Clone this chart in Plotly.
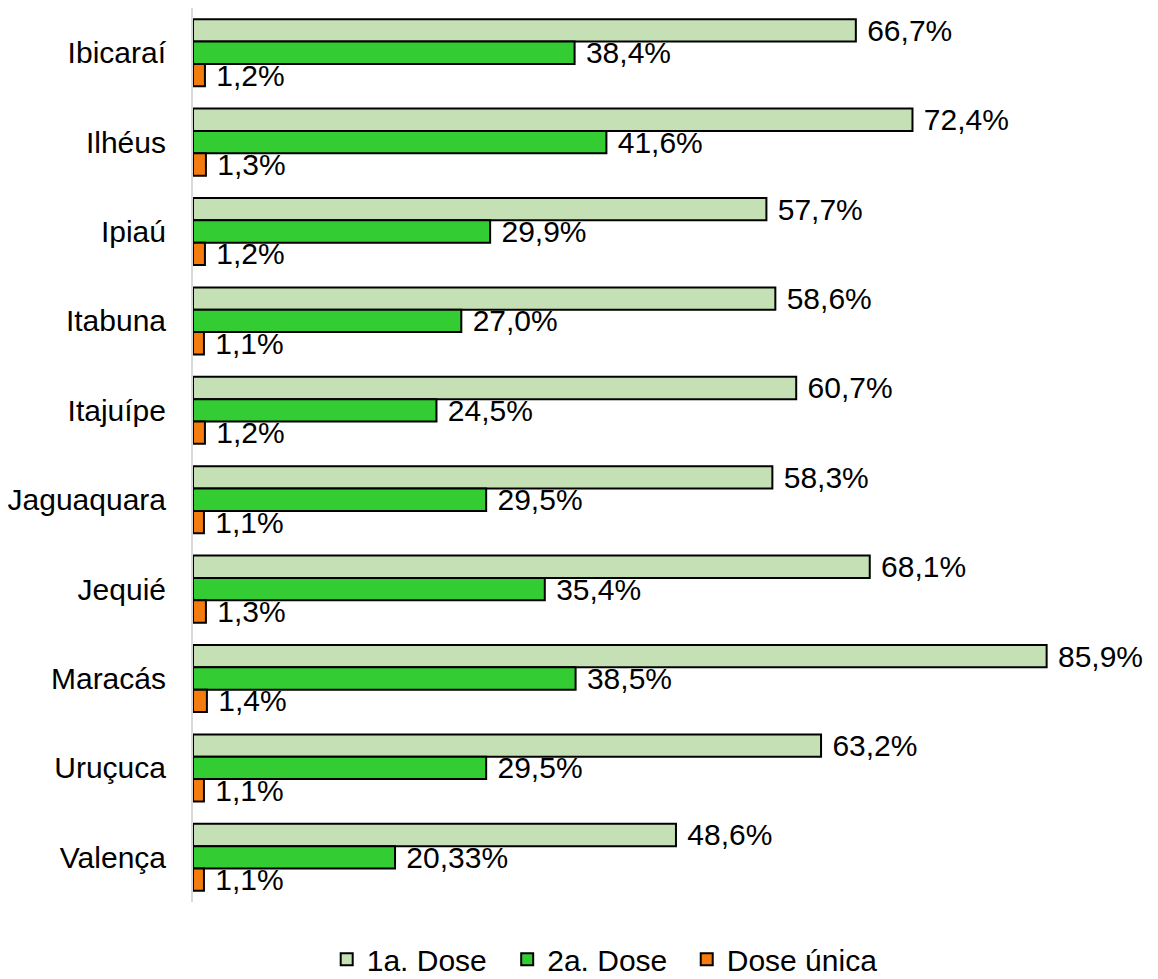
import plotly.graph_objects as go

categories = ["Ibicaraí", "Ilhéus", "Ipiaú", "Itabuna", "Itajuípe",
              "Jaguaquara", "Jequié", "Maracás", "Uruçuca", "Valença"]
dose1 = [66.7, 72.4, 57.7, 58.6, 60.7, 58.3, 68.1, 85.9, 63.2, 48.6]
dose2 = [38.4, 41.6, 29.9, 27.0, 24.5, 29.5, 35.4, 38.5, 29.5, 20.33]
dose_unica = [1.2, 1.3, 1.2, 1.1, 1.2, 1.1, 1.3, 1.4, 1.1, 1.1]
labels1 = ["66,7%", "72,4%", "57,7%", "58,6%", "60,7%", "58,3%", "68,1%", "85,9%", "63,2%", "48,6%"]
labels2 = ["38,4%", "41,6%", "29,9%", "27,0%", "24,5%", "29,5%", "35,4%", "38,5%", "29,5%", "20,33%"]
labels3 = ["1,2%", "1,3%", "1,2%", "1,1%", "1,2%", "1,1%", "1,3%", "1,4%", "1,1%", "1,1%"]

series = [
    ("1a. Dose", dose1, labels1, "#c5e0b4", "legend"),
    ("2a. Dose", dose2, labels2, "#33cc33", "legend2"),
    ("Dose única", dose_unica, labels3, "#f47c0f", "legend3"),
]

FONT = "Liberation Sans, Arial, sans-serif"

fig = go.Figure()
for name, vals, labs, col, leg in series:
    fig.add_trace(go.Bar(
        y=categories, x=vals, name=name, orientation="h", legend=leg,
        marker=dict(color=col, line=dict(color="#000000", width=2)),
        text=["\u00a0" + t for t in labs], textposition="outside",
        constraintext="none", cliponaxis=False,
        textfont=dict(family=FONT, size=30, color="#000000"),
    ))

legend_style = dict(orientation="h", xanchor="left", y=-0.035, yanchor="top",
                    font=dict(family=FONT, size=30, color="#000000"),
                    itemwidth=30, bgcolor="rgba(0,0,0,0)")

fig.update_layout(
    width=1158, height=979,
    barmode="group", bargap=0.25, bargroupgap=0,
    plot_bgcolor="white", paper_bgcolor="white",
    margin=dict(l=185, r=18, t=0, b=85, autoexpand=False),
    font=dict(family=FONT, size=30, color="#000000"),
    showlegend=True,
    legend=dict(x=0.14, **legend_style),
    legend2=dict(x=0.329, **legend_style),
    legend3=dict(x=0.517, **legend_style),
)
fig.update_xaxes(range=[0, 96.1], showgrid=False, zeroline=False, showticklabels=False,
                 showline=False, ticks="")
fig.update_yaxes(autorange="reversed", showline=True, linecolor="#d9d9d9", linewidth=2,
                 showgrid=False, ticks="", ticklabelstandoff=19, automargin=False,
                 tickfont=dict(family=FONT, size=30, color="#000000"))

fig.write_html("out.html")
